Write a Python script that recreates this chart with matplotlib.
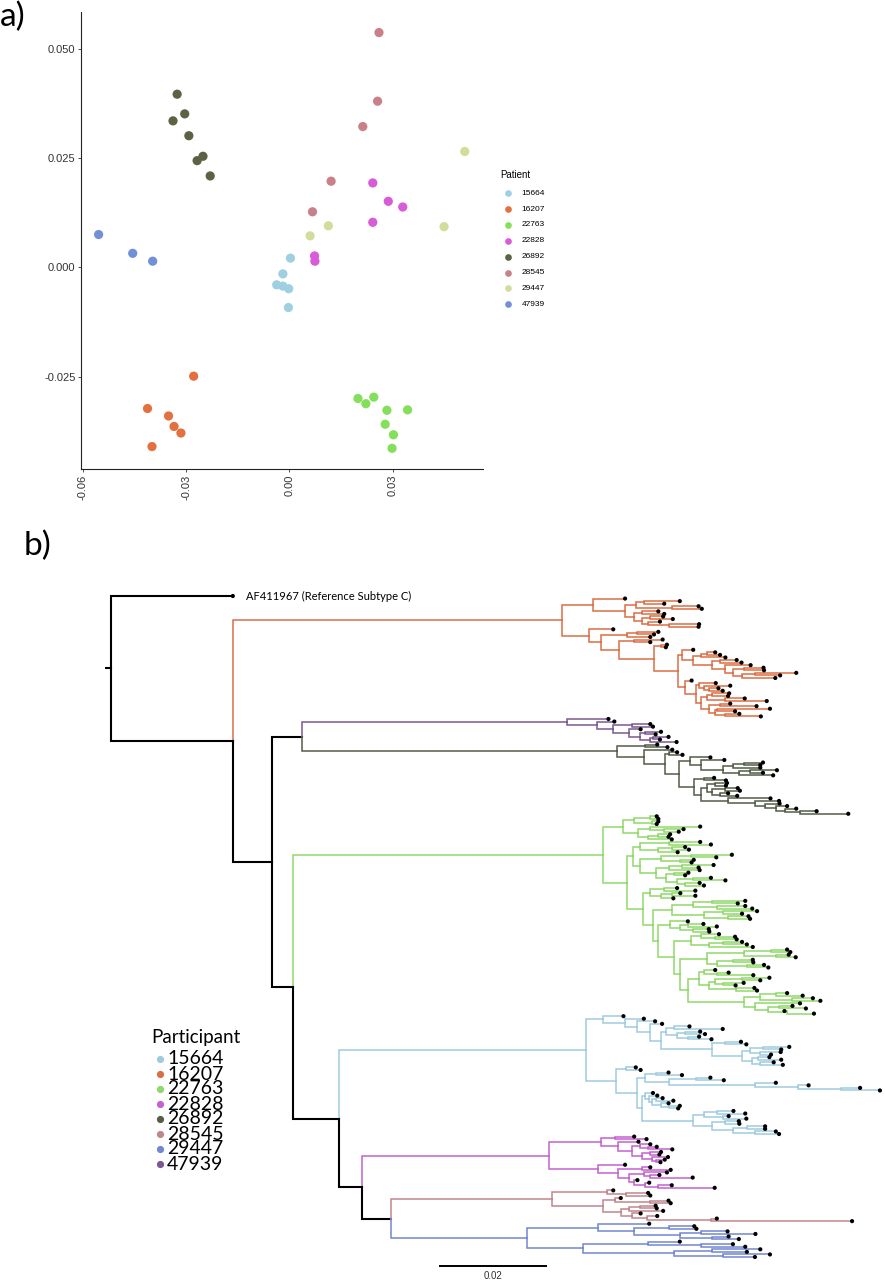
import matplotlib
matplotlib.use("Agg")
import matplotlib.pyplot as plt
from matplotlib.collections import LineCollection
from matplotlib.lines import Line2D

# ------------------------------------------------------------------
# Panel a data : PCA-like coordinates per patient
# ------------------------------------------------------------------
patients = ['15664', '16207', '22763', '22828', '26892', '28545', '29447', '47939']
pca_colors = ['#9fd0e2', '#e2713f', '#84df5a', '#d85cd6', '#5c6345', '#c98089', '#d3dd9b', '#7190d8']

x_15664 = [0.0003, -0.0019, -0.0037, -0.0019, -0.0002, -0.0003]
y_15664 = [0.0021, -0.0015, -0.0040, -0.0043, -0.0049, -0.0092]
x_16207 = [-0.0278, -0.0412, -0.0351, -0.0335, -0.0315, -0.0399]
y_16207 = [-0.0249, -0.0323, -0.0340, -0.0364, -0.0379, -0.0410]
x_22763 = [0.0199, 0.0222, 0.0245, 0.0283, 0.0343, 0.0278, 0.0302, 0.0298]
y_22763 = [-0.0300, -0.0312, -0.0297, -0.0327, -0.0326, -0.0359, -0.0383, -0.0414]
x_22828 = [0.0073, 0.0074, 0.0242, 0.0287, 0.0329, 0.0242]
y_22828 = [0.0026, 0.0014, 0.0193, 0.0151, 0.0138, 0.0103]
x_26892 = [-0.0326, -0.0304, -0.0338, -0.0292, -0.0251, -0.0268, -0.0230]
y_26892 = [0.0396, 0.0351, 0.0335, 0.0301, 0.0254, 0.0244, 0.0209]
x_28545 = [0.0260, 0.0256, 0.0213, 0.0121, 0.0067]
y_28545 = [0.0537, 0.0380, 0.0322, 0.0197, 0.0127]
x_29447 = [0.0509, 0.0449, 0.0113, 0.0060]
y_29447 = [0.0265, 0.0093, 0.0095, 0.0072]
x_47939 = [-0.0554, -0.0455, -0.0397]
y_47939 = [0.0075, 0.0032, 0.0014]

pca_x = [x_15664, x_16207, x_22763, x_22828, x_26892, x_28545, x_29447, x_47939]
pca_y = [y_15664, y_16207, y_22763, y_22828, y_26892, y_28545, y_29447, y_47939]

xticks = [-0.06, -0.03, 0.00, 0.03]
xtick_labels = ['-0.06', '-0.03', '0.00', '0.03']
yticks = [-0.025, 0.000, 0.025, 0.050]
ytick_labels = ['-0.025', '0.000', '0.025', '0.050']

# ------------------------------------------------------------------
# Panel b data : phylogeny.  Newick-like strings, every number is the
# distance from the root (units of 0.001 substitutions/site).
# ------------------------------------------------------------------
tree_colors = {'15664': '#9fcbdf', '16207': '#da6f45', '22763': '#8fd86a', '22828': '#c462ce',
               '26892': '#555d48', '28545': '#c0868c', '29447': '#7386cf', '47939': '#7a5890'}

ref_label = 'AF411967 (Reference Subtype C)'
BACKBONE = ("(AF411967:22.7,(P16207,((P47939,P26892)35.6,"
            "(P22763,(P15664,(P22828,(P28545,P29447)52.2)46.8)42.4)33.9)30.0)22.7)0.0")

# 16207
o_up = ("(95.8,(((106.0,103.1)99.3,(109.5,110.1)104.5)97.8,((102.0,103.1)99.0,"
        "((102.9,104.7)100.5,(102.3,(109.6,109.5)104.0)100.0)99.0)97.5)95.8)89.9")
o_big_u = ("(108.5,(((112.6,113.5)111.0,114.5)110.0,((116.6,117.5)113.5,(119.2,((121.6,121.7)118.0,"
           "((127.7,124.7)120.0,123.8)117.5)116.0)114.5)112.0)108.5)106.5")
o_big_l = ("(108.2,((112.7,(115.4,(113.2,114.0)111.5)110.5)109.5,(((115.2,115.0)112.0,(118.1,122.2)114.5)111.0,"
           "((115.4,120.3)113.5,((122.8,116.3)113.0,(117.1,121.1)114.5)112.5)111.5)110.0)109.0)107.0")
o_low = ("(93.6,(((102.0,101.2)98.0,100.5)96.1,((102.8,100.5)97.5,((103.6,103.4)102.5,("
         + o_big_u + "," + o_big_l + ")105.7)101.1)94.6)91.4)89.1")
CLADE_16207 = "(" + o_up + "," + o_low + ")84.0"

# 47939
CLADE_47939 = "(92.7,(93.8,((100.5,101.0)97.0,(98.7,((102.5,101.5)99.5,((103.9,102.3)101.0,105.4)100.5)98.5)96.5)93.5)90.5)84.9"

# 26892
ol_u = "(111.7,(114.3,(((121.5,121.0)118.0,121.0)116.0,((124.1,121.5)119.0,123.4)117.0)114.0)110.0)107.9"
ol_l = ("((112.4,114.6)110.5,(((114.8,114.6)112.5,((116.8,117.2)114.5,(115.0,116.7)113.5)112.0)111.0,"
        "(122.9,(124.5,(124.6,(126.0,(127.7,(131.5,137.4)128.4)125.6)123.9)121.8)120.1)114.9)110.0)108.7")
CLADE_26892 = "((101.8,103.7)99.5,(104.6,((105.5,106.5)104.0,(" + ol_u + "," + ol_l + ")105.8)103.2)99.4)94.3"

# 22763
g_up = ("(((101.7,102.0)100.5,(102.0,101.7)100.8)97.4,((109.8,(106.7,105.8)103.0)100.5,"
        "((104.2,103.9)102.0,104.5)100.0)98.3)95.5")
g_lu = ("(((109.8,111.8)104.0,((107.0,107.7)104.5,105.6)102.0)98.5,(((115.7,112.8)108.0,(108.6,108.2)106.0)102.5,"
        "(((112.3,109.5)106.5,109.7)104.0,((107.6,107.0)105.0,((111.8,114.5)108.5,(109.7,110.5)107.0)105.5)103.5)101.5)98.5)97.3")
g_5 = "((105.5,108.9)103.0,((106.1,108.9)104.5,104.8)102.5)100.4"
g_a1 = "(((118.2,116.8)112.0,(118.2,119.5)113.0)108.5,((120.4,117.6)114.0,(118.8,119.1)115.0)110.5)104.5"
g_b1 = "(107.5,((110.4,112.9)107.5,(111.4,111.5)108.5)106.0)104.2"
g_b2 = "((113.3,(116.3,116.6)112.5)110.0,((117.6,118.5)114.0,119.6)111.5)108.0"
g_b3 = "((126.0,126.6)123.0,(126.3,127.6)124.0)118.0"
g_b4 = "((119.6,119.7)116.0,(121.7,122.5)118.5)113.0"
g_b5 = "((112.6,(115.1,119.7)113.0)110.5,(((122.7,121.0)117.5,(117.9,116.4)114.0)112.5,(119.9,120.4)116.5)111.5)109.5"
g_b6 = "(((126.0,128.9)124.0,(130.8,132.2)127.0)121.0,(128.4,((127.0,129.5)124.5,(125.5,131.0)126.0)122.5)120.0)118.0"
g_rest = "(" + g_b1 + ",(" + g_b2 + ",((" + g_b3 + "," + g_b4 + ")111.0,(" + g_b5 + "," + g_b6 + ")107.5)106.0)105.0)102.0"
g_ll = "(" + g_5 + ",(" + g_a1 + "," + g_rest + ")101.0)99.2"
CLADE_22763 = "(" + g_up + ",(" + g_lu + "," + g_ll + ")96.1)91.7"

# 15664
lb_up = ("(95.5,(99.3,(101.4,(102.7,(((107.8,114.0)105.0,((109.8,110.7)107.0,(109.6,111.9)107.5)105.5)103.5,"
         "((117.4,118.4)114.5,(((126.4,124.9)121.5,(124.8,123.0)121.0)119.0,((122.7,124.9)120.5,(123.5,125.2)121.0)119.5)117.5)112.0)"
         "102.5)100.5)98.0)95.7)91.6")
lb_ladder = "((103.9,106.4)101.5,((111.7,114.2)109.0,(123.9,(130.0,(139.6,143.3)136.0)128.0)120.0)104.0)99.5"
lb_l2 = ("((101.0,(101.8,((102.8,104.8)101.5,(103.9,(106.0,105.7)104.0)102.5)100.8)100.2)99.6,"
         "(((116.0,118.2)113.0,(115.1,118.4)114.0)110.5,((117.0,117.1)114.5,((121.9,121.9)118.5,(123.9,124.5)120.0)116.0)112.0)108.5)99.0")
lb_low = "((97.8,98.7)96.0,(" + lb_ladder + "," + lb_l2 + ")98.0)94.1"
CLADE_15664 = "(" + lb_up + "," + lb_low + ")88.6"

# 22828
m_up = "((97.5,99.8)94.0,(98.3,((100.5,(101.7,104.6)100.0)98.5,((102.5,102.2)100.5,(103.8,(103.2,102.4)101.5)100.8)99.0)97.0)94.5)91.4"
m_low = "(95.8,((100.5,104.3)99.0,((103.6,(102.2,108.4)100.5)99.3,(98.1,(100.3,(104.5,112.5)102.0)99.5)97.5)96.5)94.5)90.8"
CLADE_22828 = "(" + m_up + "," + m_low + ")81.6"

# 28545
p_up = "(93.6,(100.1,100.5)96.0)92.5"
p_low = "((95.0,(103.9,104.3)100.5)94.0,(((101.5,101.7)98.5,102.9)96.5,(98.7,(101.8,(112.9,138.1)111.8)99.8)97.0)95.0)91.7"
CLADE_28545 = "(" + p_up + "," + p_low + ")82.1"

# 29447
b_up = "(100.3,((108.7,109.1)104.0,((114.9,120.1)110.0,(115.1,117.0)112.0)106.0)97.4)90.8"
b_low = "((106.0,(115.9,118.2)110.0)100.0,((121.0,118.5)112.0,(122.8,120.0)114.0)105.0)88.0"
CLADE_29447 = "(" + b_up + "," + b_low + ")77.5"

clades = {'P16207': CLADE_16207, 'P47939': CLADE_47939, 'P26892': CLADE_26892, 'P22763': CLADE_22763,
          'P15664': CLADE_15664, 'P22828': CLADE_22828, 'P28545': CLADE_28545, 'P29447': CLADE_29447}

participants = ['15664', '16207', '22763', '22828', '26892', '28545', '29447', '47939']
scale_len = 20.0          # 0.02 substitutions/site
scale_text = '0.02'


# ------------------------------------------------------------------
def parse(text, group):
    text = ''.join(text.split())
    pos = 0

    def token():
        nonlocal pos
        s = pos
        while pos < len(text) and text[pos] not in ',()':
            pos += 1
        return text[s:pos]

    def node():
        nonlocal pos
        if text[pos] == '(':
            pos += 1
            kids = [node()]
            while text[pos] == ',':
                pos += 1
                kids.append(node())
            pos += 1  # ')'
            return {'depth': float(token()), 'kids': kids, 'group': group, 'label': None}
        tok = token()
        if tok in clades:
            return parse(clades[tok], tok[1:])
        if ':' in tok:
            lab, d = tok.split(':')
            return {'depth': float(d), 'kids': [], 'group': group, 'label': lab}
        return {'depth': float(tok), 'kids': [], 'group': group, 'label': None}

    return node()


root = parse(BACKBONE, None)
leaves = []


def layout(n):
    if not n['kids']:
        n['y'] = len(leaves)
        leaves.append(n)
        return
    for k in n['kids']:
        layout(k)
    n['y'] = (n['kids'][0]['y'] + n['kids'][-1]['y']) / 2.0


layout(root)

paths, cols, lws = [], [], []


def collect(n):
    for k in n['kids']:
        paths.append([(n['depth'], n['y']), (n['depth'], k['y']), (k['depth'], k['y'])])
        if k['group'] is None:
            cols.append('black'); lws.append(1.5)
        else:
            cols.append(tree_colors[k['group']]); lws.append(1.1)
        collect(k)


collect(root)

# ------------------------------------------------------------------
W, H = 885, 1280
fig = plt.figure(figsize=(W / 100, H / 100), dpi=100)
fig.patch.set_facecolor('white')


def fx(px):
    return px / W


def fy(py):
    return 1 - py / H


font_a = ['Liberation Sans', 'DejaVu Sans']
font_b = ['Lato', 'DejaVu Sans']

# ---------------- Panel a ----------------
ax = fig.add_axes([fx(80.7), fy(469.3), fx(483) - fx(80.7), fy(12) - fy(469.3)])
for xs, ys, c in zip(pca_x, pca_y, pca_colors):
    ax.scatter(xs, ys, s=44, color=c, edgecolors='none', zorder=3)
ax.set_xlim(-0.0606, 0.0562)
ax.set_ylim(-0.0462, 0.0584)
ax.set_xticks(xticks)
ax.set_xticklabels(xtick_labels, rotation=90, family=font_a)
ax.set_yticks(yticks)
ax.set_yticklabels(ytick_labels, family=font_a)
for s in ['top', 'right']:
    ax.spines[s].set_visible(False)
for s in ['left', 'bottom']:
    ax.spines[s].set_linewidth(0.8)
    ax.spines[s].set_color('#222222')
ax.tick_params(length=2.2, width=0.6, pad=1.5, labelsize=8, colors='#333333')
ax.set_facecolor('white')

fig.text(fx(500), fy(175), 'Patient', fontsize=7, va='center', ha='left', family=font_a)
for i, (pid, c) in enumerate(zip(patients, pca_colors)):
    yy = 193.3 + i * 15.85
    fig.add_artist(Line2D([fx(508.3)], [fy(yy)], marker='o', ms=4.8, color=c, linestyle='none',
                          markeredgewidth=0, transform=fig.transFigure))
    fig.text(fx(521.7), fy(yy), pid, fontsize=6, va='center', ha='left', family=font_a)

fig.text(fx(0), fy(26), 'a)', fontsize=24, va='baseline', ha='left', family=font_b)
fig.text(fx(24), fy(555), 'b)', fontsize=24, va='baseline', ha='left', family=font_b)

# ---------------- Panel b ----------------
PXU = 5.366                      # pixels per 0.001 subs/site
d = (1257 - 596) / (len(leaves) - 1)
axt = fig.add_axes([0, 0, 1, fy(500)])
axt.axis('off')
axt.set_xlim(-111 / PXU, (W - 111) / PXU)
axt.set_ylim((1280 - 596) / d, (500 - 596) / d)

lc = LineCollection(paths, colors=cols, linewidths=lws, capstyle='projecting', joinstyle='miter')
axt.add_collection(lc)
axt.plot([-1.1, root['depth']], [root['y'], root['y']], color='black', lw=1.5, solid_capstyle='butt')
axt.scatter([l['depth'] for l in leaves], [l['y'] for l in leaves], s=9, color='black', zorder=4,
            edgecolors='none')
for l in leaves:
    if l['label']:
        axt.text(l['depth'] + 2.4, l['y'], ref_label, fontsize=8, va='center', ha='left', family=font_b)

# scale bar
sb_x0 = (439.3 - 111) / PXU
sb_y = (1265.7 - 596) / d
axt.plot([sb_x0, sb_x0 + scale_len], [sb_y, sb_y], color='black', lw=1.4, solid_capstyle='butt')
axt.text(sb_x0 + scale_len / 2, (1276 - 596) / d, scale_text, fontsize=7, ha='center', va='center',
         color='#333333', family=font_a)

# legend
fig.text(fx(151), fy(1038), 'Participant', fontsize=13.5, va='center', ha='left', family=font_b)
for i, pid in enumerate(participants):
    yy = 1059 + i * 15.0
    fig.add_artist(Line2D([fx(160)], [fy(yy)], marker='o', ms=5.2, color=tree_colors[pid], linestyle='none',
                          markeredgewidth=0, transform=fig.transFigure))
    fig.text(fx(167), fy(yy), pid, fontsize=14, va='center', ha='left', family=font_b)

fig.savefig('out.png', dpi=100, facecolor='white')
